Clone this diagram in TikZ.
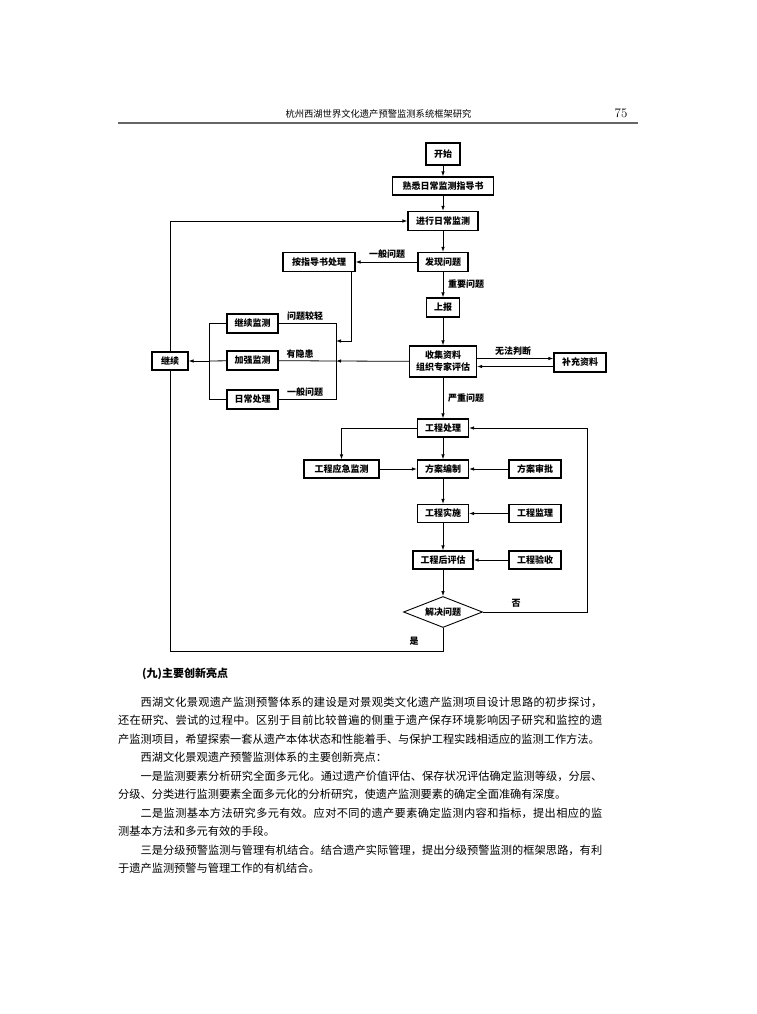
\documentclass[tikz,border=0pt]{standalone}
\usepackage{fontspec}
\newfontfamily\cjk{Noto Sans CJK SC}
\usetikzlibrary{arrows.meta,shapes.geometric}
\XeTeXlinebreaklocale "zh"
\XeTeXlinebreakskip=0pt plus 1pt

\tikzstyle{pagefig}=[x=1pt,y=-1pt]
\tikzstyle{flowbox}=[draw,line width=1.1pt,inner sep=0pt,minimum height=19pt,font=\cjk\bfseries\fontsize{9}{12}\selectfont]
\tikzstyle{decision}=[draw,diamond,aspect=2.5,line width=0.9pt,inner sep=0pt,minimum width=79pt,minimum height=31pt,font=\cjk\bfseries\fontsize{9}{12}\selectfont]
\tikzstyle{flowline}=[line width=0.8pt]
\tikzstyle{flowarrow}=[flowline,-{Latex[length=5pt,width=3.5pt]}]
\tikzstyle{linelabel}=[inner sep=0pt,font=\cjk\bfseries\fontsize{9}{12}\selectfont]

\begin{document}
\begin{tikzpicture}[style=pagefig]
\useasboundingbox (0,0) rectangle (757,1014);

% running head
\node[font=\cjk\fontsize{9.3}{12}\selectfont] (runhead) at (378.5,114) {杭州西湖世界文化遗产预警监测系统框架研究};
\node[font=\fontsize{13}{15}\selectfont] (pageno) at (621,113) {75};
\draw[line width=1.4pt,black!60] (118,123) -- (638,123);

% main column
\node[flowbox,minimum width=34pt,minimum height=22pt] (start) at (443,154) {开始};
\node[flowbox,minimum width=101pt,minimum height=18pt] (readguide) at (443,186) {熟悉日常监测指导书};
\node[flowbox,minimum width=70pt] (routine) at (443,221) {进行日常监测};
\node[flowbox,minimum width=50pt] (find) at (443,262) {发现问题};
\node[flowbox,minimum width=72pt] (manual) at (319,262) {按指导书处理};
\node[flowbox,minimum width=33pt] (report) at (443,307.5) {上报};
\node[flowbox,minimum width=67pt,minimum height=31pt,align=center] (collect) at (443,361.5) {收集资料\\组织专家评估};
\node[flowbox,minimum width=52pt] (supply) at (580,362.5) {补充资料};
\node[flowbox,minimum width=36pt,minimum height=18pt] (goon) at (170,361) {继续};
\node[flowbox,minimum width=51pt,minimum height=18pt] (project) at (443,428) {工程处理};
\node[flowbox,minimum width=75pt,minimum height=18pt] (emergency) at (341.5,469) {工程应急监测};
\node[flowbox,minimum width=51pt,minimum height=18pt] (plan) at (443,469) {方案编制};
\node[flowbox,minimum width=51pt,minimum height=18pt] (build) at (443,513.5) {工程实施};
\node[flowbox,minimum width=60pt,minimum height=18pt] (review) at (443,560) {工程后评估};
\node[decision] (solve) at (443,612) {解决问题};

\foreach \name/\y/\txt in {keepmon/323.5/继续监测,strengthen/360.5/加强监测,daily/399.5/日常处理}{% bracket boxes
    \node[flowbox,minimum width=51pt] (\name) at (252.5,\y) {\txt};
}

\foreach \name/\y/\txt/\target in {approve/469/方案审批/plan,supervise/513.5/工程监理/build,accept/560/工程验收/review}{% side inputs
    \node[flowbox,minimum width=52pt,minimum height=18pt] (\name) at (535,\y) {\txt};
    \draw[flowarrow] (\name) -- (\target);
}

\coordinate (rbar) at (336,361);
\coordinate (lbar) at (209,361);
\coordinate (mdrop) at (351,341);
\coordinate (noturn) at (587,612);

% connectors
\draw[flowarrow] (start) -- (readguide);
\draw[flowarrow] (readguide) -- (routine);
\draw[flowarrow] (routine) -- (find);
\draw[flowarrow] (find) -- (manual);
\draw[flowarrow] (find) -- (report);
\draw[flowarrow] (report) -- (collect);
\draw[flowarrow] ([yshift=3pt]collect.east) -- ([yshift=3pt]collect.east -| supply.west);
\draw[flowarrow] ([yshift=-4pt]supply.west) -- ([yshift=-4pt]supply.west -| collect.east);
\draw[flowarrow] (collect) -- (rbar);
\draw[flowarrow] (manual.south -| mdrop) -- (mdrop) -- (mdrop -| rbar);
\draw[flowline] (keepmon.east) -- (keepmon.east -| rbar) -- (daily.east -| rbar) -- (daily.east);
\draw[flowline] (strengthen) -- (rbar);
\draw[flowline] (keepmon.west) -- (keepmon.west -| lbar) -- (daily.west -| lbar) -- (daily.west);
\draw[flowline] (strengthen) -- (lbar);
\draw[flowarrow] (lbar) -- (goon);
\draw[flowarrow] (goon) |- (routine);
\draw[flowarrow] (collect) -- (project);
\draw[flowarrow] (project) -- (plan);
\draw[flowarrow] (project) -| (emergency);
\draw[flowarrow] (emergency) -- (plan);
\draw[flowarrow] (plan) -- (build);
\draw[flowarrow] (build) -- (review);
\draw[flowarrow] (review) -- (solve);
\draw[flowarrow] (solve) -- (noturn) |- (project);
\draw[flowline] (solve.south) -- ++(0,23) -| (goon);

% labels on connectors
\node[linelabel] (lbgeneral) at (387,254) {一般问题};
\node[linelabel] (lbimportant) at (466,284) {重要问题};
\node[linelabel] (lbunsure) at (513,351) {无法判断};
\node[linelabel] (lbserious) at (466,398) {严重问题};
\node[linelabel] (lblight) at (305,316) {问题较轻};
\node[linelabel] (lbhidden) at (300,354) {有隐患};
\node[linelabel] (lbnormal) at (305,392) {一般问题};
\node[linelabel] (lbno) at (516,603) {否};
\node[linelabel] (lbyes) at (414,641) {是};

% text below the figure
\node[anchor=base west,inner sep=0pt,font=\cjk\bfseries\fontsize{11}{14}\selectfont] (heading) at (142,677) {(九)主要创新亮点};
\node[anchor=base west,inner sep=0pt,text width=484pt,align=justify,font=\cjk\fontsize{11.2}{18.5}\selectfont] (bodytext) at (118,706.3) {%
\parindent=0pt\parskip=0pt
\hspace*{2em}西湖文化景观遗产监测预警体系的建设是对景观类文化遗产监测项目设计思路的初步探讨，\linebreak
还在研究、尝试的过程中。区别于目前比较普遍的侧重于遗产保存环境影响因子研究和监控的遗\linebreak
产监测项目，希望探索一套从遗产本体状态和性能着手、与保护工程实践相适应的监测工作方法。\par
\hspace*{2em}西湖文化景观遗产预警监测体系的主要创新亮点：\par
\hspace*{2em}一是监测要素分析研究全面多元化。通过遗产价值评估、保存状况评估确定监测等级，分层、\linebreak
分级、分类进行监测要素全面多元化的分析研究，使遗产监测要素的确定全面准确有深度。\par
\hspace*{2em}二是监测基本方法研究多元有效。应对不同的遗产要素确定监测内容和指标，提出相应的监\linebreak
测基本方法和多元有效的手段。\par
\hspace*{2em}三是分级预警监测与管理有机结合。结合遗产实际管理，提出分级预警监测的框架思路，有利\linebreak
于遗产监测预警与管理工作的有机结合。\par};

\end{tikzpicture}
\end{document}
